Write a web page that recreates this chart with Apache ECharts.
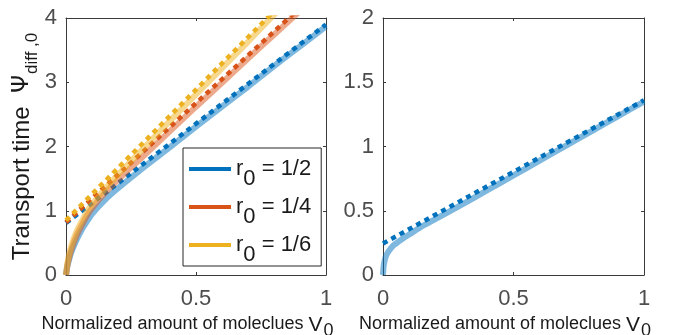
<!DOCTYPE html>
<html>
<head>
<meta charset="utf-8">
<script src="https://cdn.jsdelivr.net/npm/echarts@6/dist/echarts.min.js"></script>
<style>
  html, body { margin: 0; padding: 0; background: #fff; }
  #chart { width: 673px; height: 335px; }
</style>
</head>
<body>
<div id="chart"></div>
<script>
const vLeft = [0, 0.005, 0.01, 0.02, 0.04, 0.06, 0.08, 0.1, 0.15, 0.2, 0.3, 0.4, 0.5, 0.6, 0.7, 0.8, 0.9, 1.0];
const solidHalf = [0, 0.13, 0.21, 0.35, 0.54, 0.70, 0.83, 0.95, 1.17, 1.35, 1.68, 1.99, 2.31, 2.62, 2.93, 3.25, 3.56, 3.87];
const solidQuarter = [0, 0.14, 0.24, 0.39, 0.61, 0.77, 0.92, 1.04, 1.28, 1.48, 1.86, 2.24, 2.62, 2.99, 3.37, 3.74, 4.11, 4.49];
const solidSixth = [0, 0.17, 0.28, 0.45, 0.67, 0.83, 0.98, 1.10, 1.34, 1.56, 1.98, 2.40, 2.81, 3.22, 3.63, 4.05, 4.46, 4.87];

// straight asymptotes (dotted), endpoints at V0 = 0 and V0 = 1
const vEnds = [0, 1];
const asymHalf = [0.81, 3.90];
const asymQuarter = [0.82, 4.53];
const asymSixth = [0.85, 4.92];

const vRight = [0, 0.002, 0.005, 0.01, 0.02, 0.04, 0.06, 0.08, 0.1, 0.15, 0.2, 0.3, 0.4, 0.5, 0.6, 0.7, 0.8, 0.9, 1.0];
const solidRight = [0, 0.06, 0.10, 0.14, 0.18, 0.23, 0.26, 0.29, 0.315, 0.38, 0.435, 0.545, 0.66, 0.775, 0.89, 1.005, 1.12, 1.235, 1.35];
const asymRight = [0.245, 1.36];

const legendNames = ['r0 = 1/2', 'r0 = 1/4', 'r0 = 1/6'];
const xTicks = [0, 0.5, 1];
const yTicksLeft = [0, 1, 2, 3, 4];
const yTicksRight = [0, 0.5, 1, 1.5, 2];

const BLUE = '#0072BD', RED = '#D95319', YEL = '#EDB120';
const pair = (xs, ys) => xs.map((x, i) => [x, ys[i]]);

const axisCol = '#3a3a3a';
const labelCol = '#4d4d4d';
const FONT = 'Liberation Sans';

function xAx(grid, primary) {
  return {
    type: 'value', gridIndex: grid, min: xTicks[0], max: xTicks[xTicks.length - 1], interval: 0.5,
    position: primary ? 'bottom' : 'top',
    axisLine: { show: true, onZero: false, lineStyle: { color: axisCol, width: 1 } },
    axisTick: { show: true, inside: true, length: 3, lineStyle: { color: axisCol } },
    axisLabel: { show: primary, margin: 13, color: labelCol, fontSize: 22, fontFamily: FONT,
      formatter: v => String(v) },
    splitLine: { show: false },
    name: primary ? '{n|Normalized amount of moleclues }{v|V}{s|0}' : '',
    nameLocation: 'middle', nameGap: 31,
    nameTextStyle: {
      padding: [0, 17, 0, 0],
      rich: {
        n: { fontSize: 18, fontFamily: FONT, color: '#1a1a1a', lineHeight: 22, verticalAlign: 'top' },
        v: { fontSize: 21, fontFamily: FONT, color: '#1a1a1a', lineHeight: 22, verticalAlign: 'top' },
        s: { fontSize: 18, fontFamily: FONT, color: '#1a1a1a', lineHeight: 18, padding: [7, 0, 0, 1], verticalAlign: 'top' }
      }
    }
  };
}

function yAx(grid, primary, ticks) {
  const step = ticks[1] - ticks[0];
  return {
    type: 'value', gridIndex: grid, min: ticks[0], max: ticks[ticks.length - 1], interval: step,
    position: primary ? 'left' : 'right',
    axisLine: { show: true, onZero: false, lineStyle: { color: axisCol, width: 1 } },
    axisTick: { show: true, inside: true, length: 3, lineStyle: { color: axisCol } },
    axisLabel: { show: primary, margin: 9, color: labelCol, fontSize: 22, fontFamily: FONT,
      formatter: v => String(v) },
    splitLine: { show: false }
  };
}

const yLeftMain = yAx(0, true, yTicksLeft);
yLeftMain.name = '{t|Transport time  }{p|Ψ}{s|diff ,0}';
yLeftMain.nameLocation = 'middle';
yLeftMain.nameGap = 29;
yLeftMain.nameRotate = 90;
yLeftMain.nameTextStyle = {
  rich: {
    t: { fontSize: 24, fontFamily: FONT, color: '#1a1a1a', lineHeight: 26, verticalAlign: 'top' },
    p: { fontSize: 23, fontFamily: 'DejaVu Sans', color: '#1a1a1a', lineHeight: 26, verticalAlign: 'top' },
    s: { fontSize: 17, fontFamily: FONT, color: '#1a1a1a', lineHeight: 18, padding: [13, 0, 0, 1], verticalAlign: 'top' }
  }
};

function dotted(xi, yi, ys, color) {
  return {
    type: 'line', xAxisIndex: xi, yAxisIndex: yi, data: pair(vEnds, ys), showSymbol: false, silent: true,
    itemStyle: { color }, lineStyle: { color, width: 4.5, type: [5, 4.5], cap: 'butt' }
  };
}
function solid(name, xi, yi, xs, ys, color, light) {
  return {
    name, type: 'line', xAxisIndex: xi, yAxisIndex: yi, data: pair(xs, ys), showSymbol: false,
    smooth: 0.2, silent: true,
    itemStyle: { color }, lineStyle: { color: light, width: 6, cap: 'butt' }
  };
}

const chart = echarts.init(document.getElementById('chart'), null, { renderer: 'canvas' });
chart.setOption({
  animation: false,
  backgroundColor: '#fff',
  grid: [
    { left: 66, top: 18, width: 260, height: 257, outerBoundsMode: 'none', containLabel: false },
    { left: 383, top: 18, width: 261, height: 257, outerBoundsMode: 'none', containLabel: false }
  ],
  xAxis: [xAx(0, true), xAx(0, false), xAx(1, true), xAx(1, false)],
  yAxis: [yLeftMain, yAx(0, false, yTicksLeft), yAx(1, true, yTicksRight), yAx(1, false, yTicksRight)],
  legend: {
    orient: 'vertical', left: 183, top: 148,
    padding: [10, 10, 0, 6], itemGap: 6, itemWidth: 42, itemHeight: 4, icon: 'rect',
    backgroundColor: '#fff', borderColor: '#262626', borderWidth: 1, borderRadius: 0,
    selectedMode: false,
    data: [
      { name: legendNames[0], itemStyle: { color: BLUE } },
      { name: legendNames[1], itemStyle: { color: RED } },
      { name: legendNames[2], itemStyle: { color: YEL } }
    ],
    formatter: name => '{t|r}{s|0}{t|' + name.slice(2) + '}',
    textStyle: {
      rich: {
        t: { fontSize: 22, fontFamily: FONT, color: '#1a1a1a', lineHeight: 22, verticalAlign: 'top' },
        s: { fontSize: 22, fontFamily: FONT, color: '#1a1a1a', lineHeight: 22, padding: [10, 0, 0, 0], verticalAlign: 'top' }
      }
    }
  },
  // MATLAB order: each solid curve, then its dotted asymptote on top
  series: [
    solid(legendNames[0], 0, 0, vLeft, solidHalf, BLUE, 'rgba(0,114,189,0.5)'),
    dotted(0, 0, asymHalf, BLUE),
    solid(legendNames[1], 0, 0, vLeft, solidQuarter, RED, 'rgba(217,83,25,0.5)'),
    dotted(0, 0, asymQuarter, RED),
    solid(legendNames[2], 0, 0, vLeft, solidSixth, YEL, 'rgba(237,177,32,0.5)'),
    dotted(0, 0, asymSixth, YEL),
    solid('right', 2, 2, vRight, solidRight, BLUE, 'rgba(0,114,189,0.5)'),
    {
      type: 'line', xAxisIndex: 2, yAxisIndex: 2, data: pair(vEnds, asymRight), showSymbol: false, silent: true,
      itemStyle: { color: BLUE }, lineStyle: { color: BLUE, width: 4.5, type: [5, 4.5], cap: 'butt' }
    }
  ]
});
</script>
</body>
</html>
